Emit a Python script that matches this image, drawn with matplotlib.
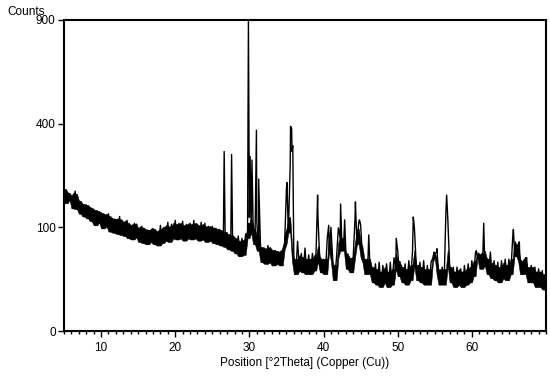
import numpy as np
import matplotlib
matplotlib.use("Agg")
import matplotlib.pyplot as plt
from matplotlib.ticker import FixedLocator, MultipleLocator

plt.rcParams['font.family'] = ['Liberation Sans', 'DejaVu Sans']

# Scan: 2-theta start and step of the recorded grid
theta_start = 5.0
theta_step = 0.25

counts_grid = [
    188, 152, 178, 160,   # 5
    170, 140, 182, 138,   # 6
    158, 128, 150, 122,   # 7
    148, 118, 142, 112,   # 8
    138, 104, 134, 110,   # 9
    130, 98, 126, 102,    # 10
    128, 92, 118, 90,     # 11
    116, 88, 122, 86,     # 12
    110, 84, 114, 80,     # 13
    104, 78, 108, 82,     # 14
    98, 74, 102, 72,      # 15
    96, 70, 94, 74,       # 16
    98, 70, 92, 68,       # 17
    104, 72, 100, 76,     # 18
    110, 74, 106, 80,     # 19
    114, 78, 108, 80,     # 20
    112, 76, 106, 80,     # 21
    108, 78, 114, 80,     # 22
    106, 76, 110, 78,     # 23
    108, 74, 102, 76,     # 24
    102, 72, 98, 70,      # 25
    96, 68, 92, 66,       # 26
    90, 62, 86, 60,       # 27
    82, 56, 84, 52,       # 28
    80, 54, 88, 80,       # 29
    120, 90, 110, 70,     # 30
    110, 60, 66, 44,      # 31
    64, 42, 68, 44,       # 32
    62, 40, 60, 42,       # 33
    58, 40, 62, 70,       # 34
    190, 90, 250, 300,    # 35
    45, 30, 75, 34,       # 36
    56, 32, 64, 30,       # 37
    54, 30, 56, 34,       # 38
    60, 120, 45, 32,      # 39
    48, 30, 80, 60,       # 40
    100, 45, 24, 50,      # 41
    99, 80, 60, 80,       # 42
    60, 36, 50, 32,       # 43
    50, 120, 70, 110,     # 44
    105, 50, 44, 30,      # 45
    50, 40, 30, 22,       # 46
    42, 20, 44, 18,       # 47
    40, 22, 42, 18,       # 48
    44, 20, 50, 36,       # 49
    60, 28, 40, 22,       # 50
    42, 20, 46, 24,       # 51
    60, 100, 40, 24,      # 52
    44, 22, 46, 20,       # 53
    40, 20, 44, 50,       # 54
    55, 58, 30, 20,       # 55
    38, 20, 130, 120,     # 56
    40, 22, 38, 18,       # 57
    38, 20, 36, 18,       # 58
    40, 20, 42, 22,       # 59
    46, 28, 58, 50,       # 60
    55, 36, 60, 40,       # 61
    50, 30, 58, 26,       # 62
    46, 24, 44, 22,       # 63
    46, 26, 48, 24,       # 64
    48, 30, 80, 60,       # 65
    52, 70, 45, 30,       # 66
    44, 50, 30, 22,       # 67
    40, 22, 38, 18,       # 68
    36, 18, 34, 16,       # 69
    30,                   # 70
]

# Sharp reflections (position, peak counts)
peak_pos = [26.6, 27.6, 29.87, 30.1, 30.35, 30.95, 31.25, 35.07, 35.55, 35.7,
            35.85, 39.2, 40.7, 42.3, 42.85, 44.3, 44.85, 46.1, 49.8, 52.1,
            54.9, 55.3, 56.6, 60.6, 61.6, 65.6, 66.4, 67.4]
peak_counts = [300, 290, 900, 283, 272, 375, 215, 205, 390, 380,
               320, 172, 104, 150, 115, 155, 115, 86, 80, 121,
               58, 63, 172, 60, 108, 96, 74, 50]

x_ticks = [10, 20, 30, 40, 50, 60]
y_ticks = [0, 100, 400, 900]

grid_theta = theta_start + theta_step * np.arange(len(counts_grid))
grid_counts = np.array(counts_grid, float)

# noise band: local min / max of neighbouring readings, limited in height
padded = np.pad(grid_counts, 1, mode='edge')
band_hi = np.maximum(np.maximum(padded[:-2], padded[1:-1]), padded[2:])
band_lo = np.minimum(np.minimum(padded[:-2], padded[1:-1]), padded[2:])
band_cap = 1.5   # max band thickness in sqrt(counts) units
band_hi = np.minimum(band_hi, (np.sqrt(band_lo) + band_cap) ** 2)

theta = np.concatenate([grid_theta, np.array(peak_pos)])
counts = np.concatenate([grid_counts, np.array(peak_counts, float)])
order = np.argsort(theta, kind="stable")
theta = theta[order]
counts = counts[order]

fig = plt.figure(figsize=(5.5, 3.8), dpi=100)
ax = fig.add_axes([64/550, 1-331/380, (546-64)/550, (331-20)/380])

ax.set_yscale('function', functions=(lambda v: np.sqrt(np.clip(v, 0, None)),
                                      lambda s: np.square(s)))
ax.fill_between(grid_theta, band_lo, band_hi, color='black', lw=0.4,
                edgecolor='black')
ax.plot(theta, counts, color='black', lw=1.0)

ax.set_xlim(5, 70)
ax.set_ylim(0, 900)
ax.xaxis.set_major_locator(FixedLocator(x_ticks))
ax.xaxis.set_minor_locator(MultipleLocator(1))
ax.yaxis.set_major_locator(FixedLocator(y_ticks))
ax.yaxis.set_minor_locator(FixedLocator([]))
ax.set_yticklabels([str(t) for t in y_ticks])

for s in ax.spines.values():
    s.set_linewidth(1.5)
ax.tick_params(axis='both', which='major', direction='out', length=4, width=1,
               labelsize=8.5, colors='black', pad=2)
ax.tick_params(axis='x', which='minor', direction='out', length=2.5, width=1)
ax.tick_params(axis='x', which='major', pad=4)

ax.set_xlabel('Position [°2Theta] (Copper (Cu))', fontsize=8.5, labelpad=2)
fig.text(7/550, 1-15/380, 'Counts', fontsize=8.5, ha='left', va='baseline')

fig.savefig('out.png', dpi=100)
